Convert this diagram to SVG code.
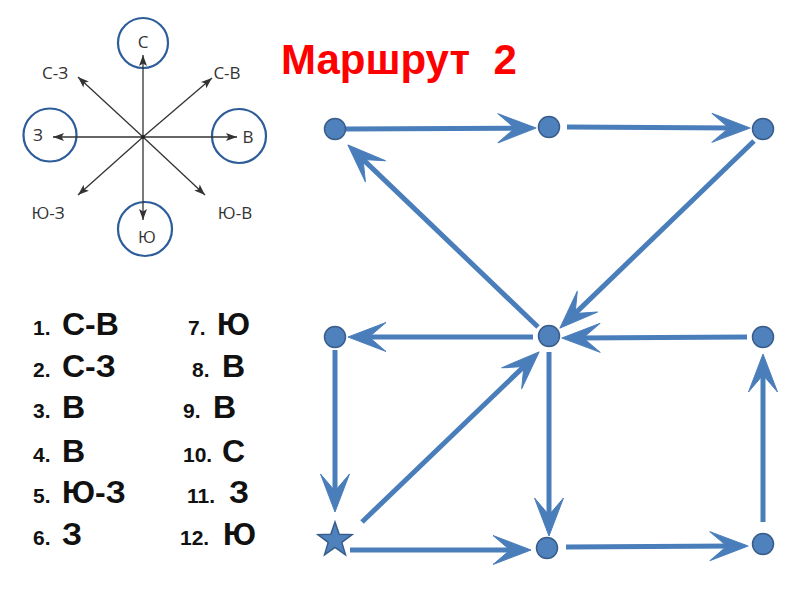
<svg xmlns="http://www.w3.org/2000/svg" width="800" height="600" viewBox="0 0 800 600">
<style>
  .edge { stroke: #4a7ebb; stroke-width: 5; fill: none; marker-end: url(#big); }
  .node { fill: #4f81bd; stroke: #385d8a; stroke-width: 1.5; }
  .cl { stroke: #333; stroke-width: 1.3; fill: none; marker-end: url(#small); }
  .ring { fill: none; stroke: #2c5d9a; stroke-width: 2.2; }
  .ct { font-family: "Open Sans", "Liberation Sans", sans-serif; font-size: 17px; fill: #333; text-anchor: middle; }
  .num { font-family: "Liberation Sans", Arial, sans-serif; font-weight: bold; font-size: 21px; fill: #111; }
  .let { font-family: "Liberation Sans", Arial, sans-serif; font-weight: bold; font-size: 32px; fill: #111; }
  .title { font-family: "Liberation Sans", Arial, sans-serif; font-weight: bold; font-size: 42px; fill: #ff0000; }
</style>
<defs>
  <marker id="big" markerUnits="userSpaceOnUse" markerWidth="60" markerHeight="40" refX="0" refY="0" viewBox="-30 -20 60 40" orient="auto" overflow="visible">
    <path d="M15,0 L-23,-14.5 L-6,0 L-23,14.5 Z" fill="#4a7ebb" stroke="#4a7ebb" stroke-width="1" stroke-linejoin="round"/>
  </marker>
  <marker id="small" markerUnits="userSpaceOnUse" markerWidth="20" markerHeight="20" refX="0" refY="0" viewBox="-10 -10 20 20" orient="auto" overflow="visible">
    <path d="M0,0 L-11,-4 L-8.5,0 L-11,4 Z" fill="#333"/>
  </marker>
</defs>

<g id="compass">
  <circle class="ring" cx="143" cy="43" r="25"/>
  <circle class="ring" cx="50" cy="135" r="26.5"/>
  <circle class="ring" cx="239" cy="136" r="27"/>
  <circle class="ring" cx="145" cy="229" r="27"/>
  <line class="cl" x1="143" y1="137" x2="143" y2="55"/>
  <line class="cl" x1="143" y1="137" x2="143" y2="220"/>
  <line class="cl" x1="143" y1="137" x2="53" y2="137"/>
  <line class="cl" x1="143" y1="137" x2="237" y2="137"/>
  <line class="cl" x1="143" y1="137" x2="78" y2="77"/>
  <line class="cl" x1="143" y1="137" x2="212" y2="78"/>
  <line class="cl" x1="143" y1="137" x2="78" y2="195"/>
  <line class="cl" x1="143" y1="137" x2="205" y2="195"/>
  <circle cx="143" cy="137" r="2" fill="#222"/>
  <text class="ct" x="143" y="48">С</text>
  <text class="ct" x="38" y="141">З</text>
  <text class="ct" x="248" y="143">В</text>
  <text class="ct" x="147" y="243">Ю</text>
  <text class="ct" x="55" y="79">С-З</text>
  <text class="ct" x="227" y="79">С-В</text>
  <text class="ct" x="48" y="219">Ю-З</text>
  <text class="ct" x="235" y="219">Ю-В</text>
</g>

<text class="title" x="281" y="74" xml:space="preserve">Маршрут  2</text>

<g id="list">
  <text x="33" y="335"><tspan class="num">1.</tspan><tspan class="let" x="62">С-В</tspan></text>
  <text x="33" y="377"><tspan class="num">2.</tspan><tspan class="let" x="62">С-З</tspan></text>
  <text x="33" y="418"><tspan class="num">3.</tspan><tspan class="let" x="62">В</tspan></text>
  <text x="33" y="462"><tspan class="num">4.</tspan><tspan class="let" x="62">В</tspan></text>
  <text x="33" y="503"><tspan class="num">5.</tspan><tspan class="let" x="62">Ю-З</tspan></text>
  <text x="33" y="545"><tspan class="num">6.</tspan><tspan class="let" x="62">З</tspan></text>
  <text x="188" y="335"><tspan class="num">7.</tspan><tspan class="let" x="217">Ю</tspan></text>
  <text x="192" y="377"><tspan class="num">8.</tspan><tspan class="let" x="222">В</tspan></text>
  <text x="183" y="418"><tspan class="num">9.</tspan><tspan class="let" x="213">В</tspan></text>
  <text x="183" y="462"><tspan class="num">10.</tspan><tspan class="let" x="222">С</tspan></text>
  <text x="187" y="503"><tspan class="num">11.</tspan><tspan class="let" x="229">З</tspan></text>
  <text x="180" y="545"><tspan class="num">12.</tspan><tspan class="let" x="223">Ю</tspan></text>
</g>

<g id="connectors">
  <line class="edge" x1="346" y1="129" x2="521" y2="128.1"/>
  <line class="edge" x1="567" y1="127" x2="735" y2="128"/>
  <line class="edge" x1="754" y1="141" x2="570.8" y2="317.6"/>
  <line class="edge" x1="538" y1="327" x2="358.8" y2="155.4"/>
  <line class="edge" x1="533" y1="337" x2="363" y2="337"/>
  <line class="edge" x1="747" y1="337" x2="577" y2="338"/>
  <line class="edge" x1="335" y1="350" x2="335" y2="497"/>
  <line class="edge" x1="362" y1="522" x2="528.2" y2="362.4"/>
  <line class="edge" x1="549" y1="352" x2="549" y2="521"/>
  <line class="edge" x1="350" y1="550" x2="516" y2="550"/>
  <line class="edge" x1="566" y1="547" x2="733" y2="546"/>
  <line class="edge" x1="763" y1="522" x2="763" y2="369"/>
</g>

<g id="n-tl"><circle class="node" cx="335" cy="129" r="10.5"/></g>
<g id="n-tm"><circle class="node" cx="549" cy="127" r="10.5"/></g>
<g id="n-tr"><circle class="node" cx="763" cy="129" r="10.5"/></g>
<g id="n-ml"><circle class="node" cx="335" cy="337" r="10.5"/></g>
<g id="n-mc"><circle class="node" cx="549" cy="336" r="10.5"/></g>
<g id="n-mr"><circle class="node" cx="763" cy="337" r="10.5"/></g>
<g id="n-start"><polygon class="node" points="335,522 339.2,534.3 352.1,534.6 341.8,542.4 345.5,554.8 335,547.4 324.5,554.8 328.2,542.4 317.9,534.6 330.8,534.3"/></g>
<g id="n-bm"><circle class="node" cx="547" cy="548" r="10.5"/></g>
<g id="n-br"><circle class="node" cx="763" cy="544" r="10.5"/></g>
</svg>
